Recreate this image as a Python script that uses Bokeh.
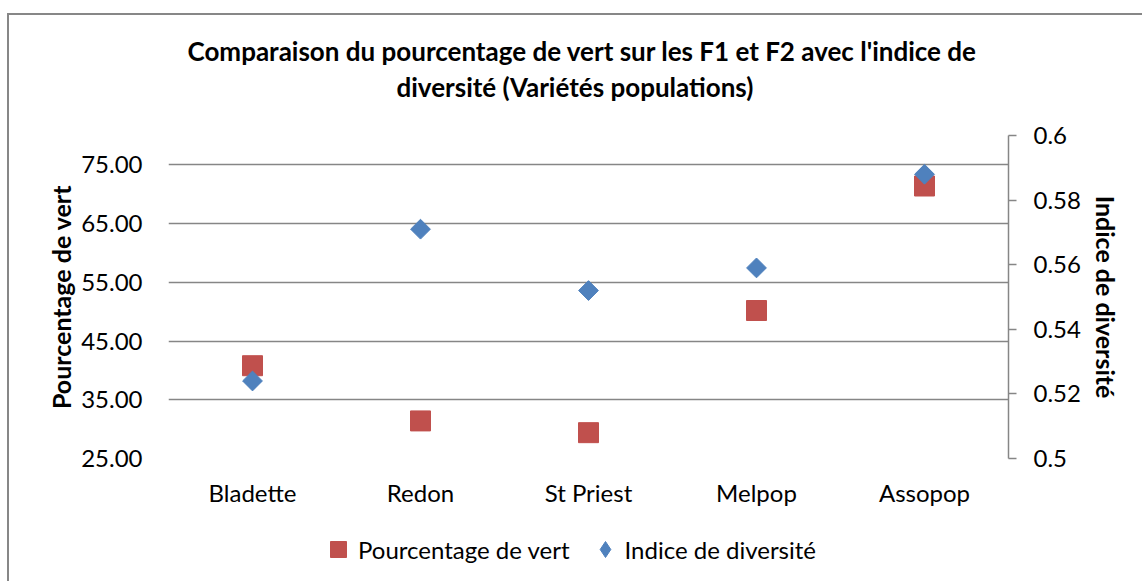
import math
from bokeh.plotting import figure
from bokeh.layouts import column
from bokeh.models import (Range1d, LinearAxis, FixedTicker, NumeralTickFormatter,
                          Legend, LegendItem, FactorRange, Title)
from bokeh.embed import file_html
from bokeh.resources import INLINE

categories = ["Bladette", "Redon", "St Priest", "Melpop", "Assopop"]
pct_vert = [40.8, 31.4, 29.4, 50.2, 71.4]
indice_div = [0.524, 0.571, 0.552, 0.559, 0.588]
left_ticks = [25, 35, 45, 55, 65, 75]
right_ticks = [0.5, 0.52, 0.54, 0.56, 0.58, 0.6]
title_lines = ["Comparaison du pourcentage de vert sur les F1 et F2 avec l'indice de",
               "diversité (Variétés populations)"]
series_names = ["Pourcentage de vert", "Indice de diversité"]

FONT = "Lato"
GRAY = "#868686"
RED = "#C0504D"
BLUE = "#4F81BD"
FS = "24px"
FS_LAB = "25px"
FS_TITLE = "26px"

p = figure(
    x_range=FactorRange(*categories),
    y_range=Range1d(25, 80),
    frame_width=840, frame_height=323,
    min_border_left=159, min_border_right=134,
    min_border_top=120, min_border_bottom=60,
    output_backend="svg", toolbar_location=None,
)
p.outline_line_color = None
p.background_fill_color = "white"
p.border_fill_color = "white"
p.title.visible = False

spacer = Title(text=" ", text_font_size="2px", standoff=29)
t2 = Title(text=title_lines[1], align="left", offset=228, standoff=0,
           text_font=FONT, text_font_size=FS_TITLE, text_font_style="bold", text_color="black")
t1 = Title(text=title_lines[0], align="left", offset=19, standoff=4,
           text_font=FONT, text_font_size=FS_TITLE, text_font_style="bold", text_color="black")
p.add_layout(spacer, "above")
p.add_layout(t2, "above")
p.add_layout(t1, "above")

p.extra_y_ranges = {"div": Range1d(0.5, 0.6)}

# left axis
ya = p.yaxis[0]
ya.ticker = FixedTicker(ticks=left_ticks)
ya.formatter = NumeralTickFormatter(format="0.00")
ya.axis_line_color = None
ya.major_tick_line_color = None
ya.minor_tick_line_color = None
ya.major_label_standoff = 20
ya.major_label_text_font = FONT
ya.major_label_text_font_size = FS
ya.major_label_text_color = "black"
ya.axis_label = series_names[0]
ya.axis_label_standoff = 2
ya.axis_label_text_font = FONT
ya.axis_label_text_font_size = FS_LAB
ya.axis_label_text_font_style = "bold"
ya.axis_label_text_color = "black"

# right axis
ra = LinearAxis(y_range_name="div", ticker=FixedTicker(ticks=right_ticks),
                formatter=NumeralTickFormatter(format="0.[00]"))
ra.axis_line_color = GRAY
ra.axis_line_width = 1.5
ra.major_tick_line_color = GRAY
ra.major_tick_line_width = 1.5
ra.major_tick_out = 8
ra.major_tick_in = 0
ra.minor_tick_line_color = None
ra.major_label_standoff = 17
ra.major_label_text_font = FONT
ra.major_label_text_font_size = FS
ra.major_label_text_color = "black"
ra.axis_label = series_names[1]
ra.axis_label_standoff = 7
ra.axis_label_text_font = FONT
ra.axis_label_text_font_size = FS_LAB
ra.axis_label_text_font_style = "bold"
ra.axis_label_text_color = "black"
p.add_layout(ra, "right")

# bottom axis
xa = p.xaxis[0]
xa.axis_line_color = None
xa.major_tick_line_color = None
xa.minor_tick_line_color = None
xa.major_label_standoff = 13
xa.major_label_text_font = FONT
xa.major_label_text_font_size = FS
xa.major_label_text_color = "black"

p.xgrid.grid_line_color = None
p.ygrid.grid_line_color = GRAY
p.ygrid.grid_line_width = 1.5

r1 = p.scatter(x=categories, y=pct_vert, marker="square", size=20,
               fill_color=RED, line_color=RED)
r2 = p.scatter(x=categories, y=indice_div, marker="square", size=14, angle=math.pi / 4,
               fill_color=BLUE, line_color=BLUE, y_range_name="div")

# legend strip below the chart (proxy renderers lie outside its ranges)
pl = figure(width=1133, height=63, x_range=Range1d(-2, -1), y_range=Range1d(-2, -1),
            min_border=0, min_border_left=0, min_border_right=0,
            min_border_top=0, min_border_bottom=0,
            x_axis_location=None, y_axis_location=None,
            output_backend="svg", toolbar_location=None)
pl.grid.visible = False
pl.outline_line_color = None
pl.border_fill_color = "white"
pl.background_fill_color = "white"
lr1 = pl.scatter(x=pct_vert, y=pct_vert, marker="square", fill_color=RED, line_color=RED)
lr2 = pl.scatter(x=indice_div, y=indice_div, marker="diamond", fill_color=BLUE, line_color=BLUE)

legend = Legend(items=[LegendItem(label=series_names[0], renderers=[lr1]),
                       LegendItem(label=series_names[1], renderers=[lr2])],
                orientation="horizontal", location=(150, 12),
                label_text_font=FONT, label_text_font_size=FS, label_text_color="black",
                glyph_width=40, glyph_height=40, spacing=15, label_standoff=0,
                border_line_color=None, background_fill_alpha=0, padding=0, margin=0)
pl.add_layout(legend, "center")

layout = column(p, pl, spacing=0)
layout.styles = {"border-top": "2px solid #878787", "border-left": "2px solid #878787",
                 "margin-top": "13px", "margin-left": "7px"}

open("out.html", "w").write(file_html(layout, INLINE))
